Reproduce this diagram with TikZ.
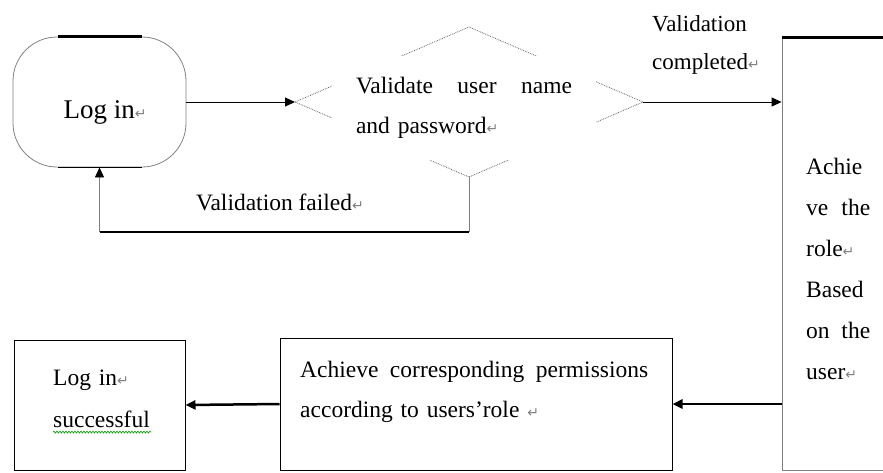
\documentclass[tikz,border=0pt]{standalone}
\usepackage{fontspec}
\setmainfont{Liberation Serif}
\newfontfamily\symfont{DejaVu Sans}
\usetikzlibrary{arrows.meta,shapes.geometric,decorations.pathmorphing}

\newcommand{\retmark}{{\symfont\fontsize{14}{14}\selectfont\textcolor{gray}{↵}}}

\tikzset{
	thinline/.style={draw=gray, line width=0.8pt},
	box/.style={draw=black, line width=1pt, inner sep=0pt},
	lbl/.style={inner sep=0pt, font=\fontsize{23.5}{40}\selectfont},
	>={Triangle[length=10pt,width=9pt,color=black]},
}

\begin{document}
\begin{tikzpicture}[x=1pt, y=-1pt]
	\useasboundingbox (0,0) rectangle (883,472);
	\clip (0,0) rectangle (883,472);

	% log in
	\node[thinline, rounded corners=44pt, minimum width=173pt, minimum height=130pt] (login) at (99.5,102) {};
	\draw[line width=2.5pt] ([xshift=-42pt]login.north) -- ([xshift=42pt]login.north);
	\draw[line width=1.2pt] ([xshift=-42pt]login.south) -- ([xshift=42pt]login.south);
	\node[lbl, font=\fontsize{27}{27}\selectfont] (logintext) at (105,112) {Log in\retmark};

	% check
	\node[diamond, draw=gray!80!black, line width=0.8pt, densely dotted, minimum width=348pt, minimum height=150pt, inner sep=0pt, outer sep=0pt] (check) at (469,102) {};
	\node[lbl, fill=white, text width=216pt, inner xsep=24pt, minimum height=104pt, align=left] (checktext) at (464,108) {Validate\hfill user\hfill name\\and password\retmark};

	% role
	\node[thinline, minimum width=140pt, minimum height=432pt] (role) at (852,254) {};
	\draw[line width=2.5pt] (role.north west) -- (role.north east);
	\node[lbl, text width=64pt, align=left, anchor=west, font=\fontsize{23.5}{41}\selectfont] (roletext) at (806,269) {Achie\\ve\hfill the\\role\retmark\\Based\\on\hfill the\\user\retmark};

	% permissions
	\node[box, minimum width=392pt, minimum height=132pt] (perm) at (476,404) {};
	\node[lbl, text width=348pt, align=left, anchor=west] (permtext) at (300,392) {Achieve\hfill corresponding\hfill permissions\\according to users’role \retmark};

	% success
	\node[box, minimum width=171pt, minimum height=130pt] (success) at (99.5,405) {};
	\draw[line width=1.8pt] (success.south west) -- (success.south east);
	\node[lbl, text width=100pt, align=left, anchor=west, font=\fontsize{23.5}{42}\selectfont] (successtext) at (53,399) {Log in\retmark\\successful};
	\draw[green!60!black, line width=0.6pt, decorate, decoration={snake, amplitude=1pt, segment length=3pt}] ([yshift=-4pt]successtext.south west) -- ([yshift=-4pt, xshift=-2pt]successtext.south east);

	% arrows
	\draw[->, line width=1pt] (login.east) -- (check.west);
	\coordinate (failR) at ([yshift=-55pt]check.south);
	\coordinate (failL) at (login.south |- failR);
	\draw[thinline] (check.south) -- (failR);
	\draw[line width=2.5pt] (failR) -- (failL);
	\draw[thinline, ->] (failL) -- (login.south);
	\node[lbl] (failtext) at (280,202) {Validation failed\retmark};

	\draw[->, line width=1pt] (check.east) -- (check.east -| role.west);
	\node[lbl, align=left, anchor=west, font=\fontsize{23}{38}\selectfont] (oktext) at (652,45) {Validation\\completed\retmark};

	\draw[->, line width=2.5pt] (perm.east -| role.west) -- (perm.east);
	\draw[->, line width=2.5pt] (perm.west) -- (success.east);
\end{tikzpicture}
\end{document}
